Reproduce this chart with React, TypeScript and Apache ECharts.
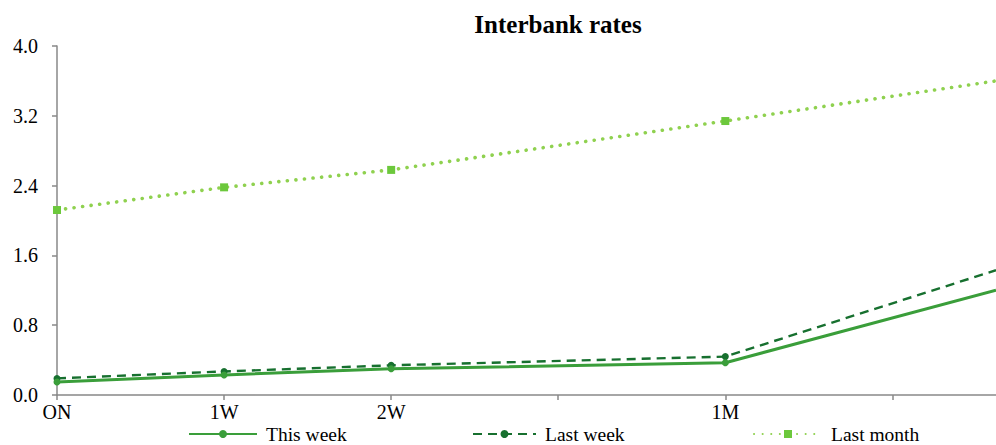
import React, { useEffect, useRef } from "react";
import * as echarts from "echarts";

const tenorLabels = ["ON", "1W", "2W", "", "1M", ""];
const xPositions = [0, 1, 2, 4, 5.62];
const thisWeek = [0.15, 0.23, 0.3, 0.37, 1.2];
const lastWeek = [0.19, 0.27, 0.34, 0.44, 1.43];
const lastMonth = [2.12, 2.38, 2.58, 3.14, 3.6];
const seriesNames = ["This week", "Last week", "Last month"];
const yTicks = [0, 0.8, 1.6, 2.4, 3.2, 4.0];

const FONT = "'Liberation Serif', 'Times New Roman', serif";

function toPairs(vals: number[]) {
  return vals.map((v, i) => {
    const last = i === vals.length - 1;
    return last
      ? { value: [xPositions[i], v], symbol: "none" }
      : { value: [xPositions[i], v] };
  });
}

export default function App() {
  const ref = useRef<HTMLDivElement>(null);
  useEffect(() => {
    if (!ref.current) return;
    const chart = echarts.init(ref.current, undefined, { renderer: "svg" });
    const legendBase = {
      top: 419,
      itemWidth: 68,
      itemHeight: 10,
      textStyle: {
        fontFamily: FONT,
        fontSize: 19.5,
        lineHeight: 16,
        color: "#000",
        padding: [0, 0, 0, 4],
      },
    };
    chart.setOption({
      animation: false,
      title: {
        text: "Interbank rates",
        left: 553,
        textAlign: "center",
        top: 7,
        textStyle: { fontFamily: FONT, fontSize: 25, fontWeight: "bold", color: "#000" },
      },
      grid: { left: 57, right: 0, top: 46, bottom: 50, containLabel: false },
      legend: [
        { ...legendBase, left: 183, data: [seriesNames[0]] },
        { ...legendBase, left: 467, itemWidth: 63, data: [seriesNames[1]] },
        { ...legendBase, left: 748, data: [seriesNames[2]] },
      ],
      xAxis: {
        type: "value",
        min: 0,
        max: xPositions[xPositions.length - 1],
        interval: 1,
        splitLine: { show: false },
        axisLine: { lineStyle: { color: "#888", width: 1.5 } },
        axisTick: {
          show: true,
          length: 5,
          lineStyle: { color: "#888", width: 1.5 },
          customValues: [0, 1, 2, 3, 4, 5],
        },
        axisLabel: {
          customValues: [0, 1, 2, 4],
          formatter: (v: number) => tenorLabels[Math.round(v)] ?? "",
          fontFamily: FONT,
          fontSize: 20,
          color: "#000",
          margin: 7,
        },
      },
      yAxis: {
        type: "value",
        min: 0,
        max: 4,
        interval: 0.8,
        splitLine: { show: false },
        axisLine: { show: true, lineStyle: { color: "#888", width: 1.5 } },
        axisTick: { show: true, length: 5, lineStyle: { color: "#888", width: 1.5 } },
        axisLabel: {
          customValues: yTicks,
          formatter: (v: number) => v.toFixed(1),
          fontFamily: FONT,
          fontSize: 20,
          color: "#000",
          margin: 19,
        },
      },
      series: [
        {
          name: seriesNames[1],
          type: "line",
          data: toPairs(lastWeek),
          symbol: "circle",
          symbolSize: 7,
          itemStyle: { color: "#17702f" },
          lineStyle: { color: "#17702f", width: 2.4, type: [9, 6] },
          z: 2,
        },
        {
          name: seriesNames[0],
          type: "line",
          data: toPairs(thisWeek),
          symbol: "circle",
          symbolSize: 7,
          itemStyle: { color: "#3a9e3a" },
          lineStyle: { color: "#3a9e3a", width: 3 },
          z: 3,
        },
        {
          name: seriesNames[2],
          type: "line",
          data: toPairs(lastMonth),
          symbol: "rect",
          symbolSize: 8,
          itemStyle: { color: "#6cc83c" },
          lineStyle: { color: "#8fd14f", width: 3.6, type: [0.1, 8.5], cap: "round" },
          z: 2,
        },
      ],
    });
    return () => chart.dispose();
  }, []);
  return <div ref={ref} style={{ width: 996, height: 445, position: "absolute", left: 0, top: 0 }} />;
}
